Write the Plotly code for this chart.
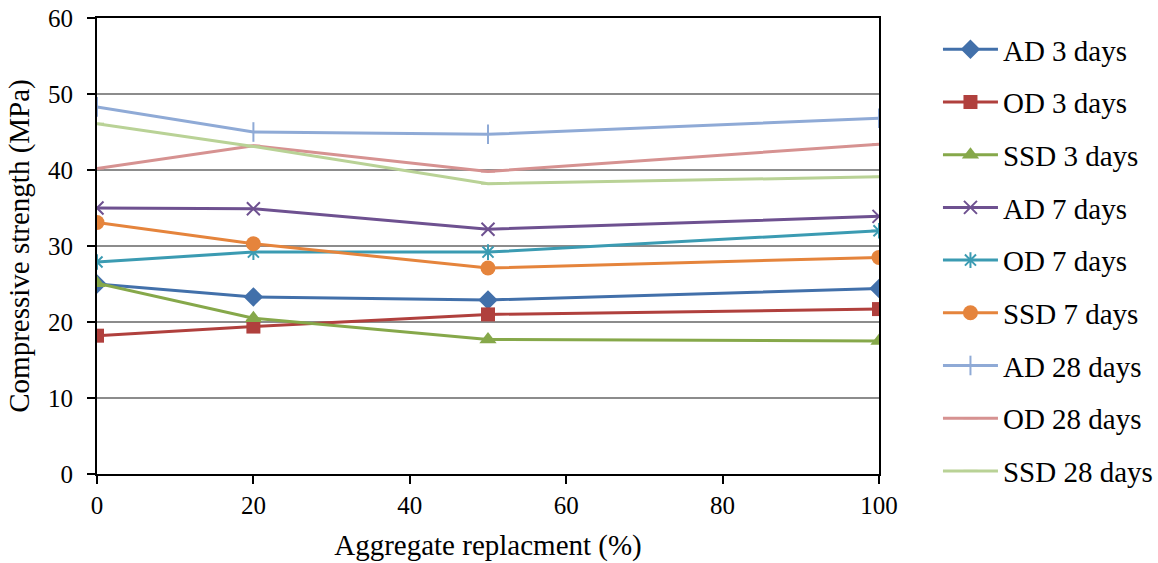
import plotly.graph_objects as go

x_vals = [0, 20, 50, 100]

ad_3 = [25.0, 23.3, 22.9, 24.4]
od_3 = [18.2, 19.4, 21.0, 21.7]
ssd_3 = [25.1, 20.5, 17.7, 17.5]
ad_7 = [35.0, 34.9, 32.2, 33.9]
od_7 = [27.9, 29.2, 29.2, 32.0]
ssd_7 = [33.1, 30.3, 27.1, 28.5]
ad_28 = [48.3, 45.0, 44.7, 46.8]
od_28 = [40.2, 43.2, 39.8, 43.4]
ssd_28 = [46.1, 43.1, 38.2, 39.1]

series = [
    ("AD 3 days", ad_3, "#4270AA", "diamond", 15),
    ("OD 3 days", od_3, "#B0403D", "square", 14),
    ("SSD 3 days", ssd_3, "#86A84A", "triangle-up", 15),
    ("AD 7 days", ad_7, "#6E5190", "x-thin", 13),
    ("OD 7 days", od_7, "#3B9BB2", "asterisk", 13),
    ("SSD 7 days", ssd_7, "#E5843C", "circle", 15),
    ("AD 28 days", ad_28, "#8FAAD6", "line-ns", 14),
    ("OD 28 days", od_28, "#D69291", "line-ew", 10),
    ("SSD 28 days", ssd_28, "#B9D296", "line-ew", 10),
]

fig = go.Figure()
for i, (name, vals, color, sym, size) in enumerate(series):
    open_sym = sym in ("x-thin", "asterisk", "line-ns", "line-ew")
    fig.add_trace(go.Scatter(
        x=x_vals, y=vals, name=name, mode="lines+markers",
        legendgroup=f"g{i}",
        line=dict(color=color, width=3),
        marker=dict(symbol=sym, size=size, color=color,
                    line=dict(color=color, width=2 if open_sym else 0)),
    ))

font_family = "Liberation Serif, Times New Roman, serif"
fig.update_layout(
    width=1158, height=563,
    margin=dict(l=97, r=279, t=18, b=89, autoexpand=False),
    paper_bgcolor="white", plot_bgcolor="white",
    font=dict(family=font_family, size=25, color="black"),
    showlegend=True,
    legend=dict(x=1.0754, y=0.987, xanchor="left", yanchor="top",
                font=dict(family=font_family, size=29, color="black"),
                tracegroupgap=12, itemwidth=55, maxheight=600,
                bgcolor="rgba(0,0,0,0)"),
    xaxis=dict(range=[0, 100], tickvals=[0, 20, 40, 60, 80, 100],
               showgrid=False, zeroline=False, showline=True, linecolor="black",
               linewidth=2, mirror=True, ticks="outside", ticklen=8, tickwidth=2,
               tickcolor="black", tickfont=dict(size=25),
               title=dict(text="Aggregate replacment (%)", font=dict(size=29), standoff=17)),
    yaxis=dict(range=[0, 60], tickvals=[0, 10, 20, 30, 40, 50, 60],
               showgrid=True, gridcolor="#8c8c8c", gridwidth=1.5, zeroline=False,
               showline=True, linecolor="black", linewidth=2, mirror=True,
               ticks="outside", ticklen=8, tickwidth=2, tickcolor="black",
               tickfont=dict(size=25), ticklabelstandoff=9,
               title=dict(text="Compressive strength (MPa)", font=dict(size=29), standoff=10)),
)

fig.write_html("out.html")
